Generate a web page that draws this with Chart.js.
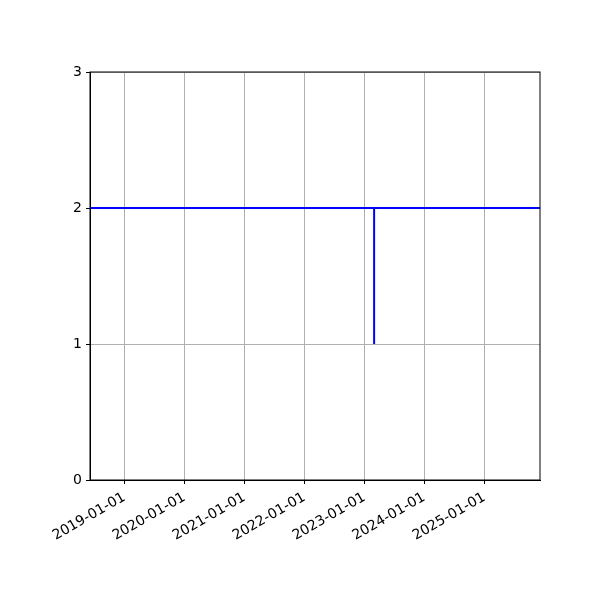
<!DOCTYPE html>
<html lang="en">

<head>
    <meta charset="UTF-8">
    <title>Step line</title>
    <script src="https://cdn.jsdelivr.net/npm/chart.js"></script>
    <style>
        body { margin: 0; background: white; }
        canvas { display: block; }
    </style>
</head>

<body>
    <canvas id="grafico" width="600" height="600"></canvas>
</body>

</html>

<script>

    // dados
    const xTickLabels = ['2019-01-01', '2020-01-01', '2021-01-01', '2022-01-01', '2023-01-01', '2024-01-01', '2025-01-01'];
    const xLimits = ['2018-06-06', '2025-12-06'];
    const lineDates = ['2018-06-06', '2023-03-02', '2023-03-02', '2023-03-02', '2025-12-06'];
    const lineValues = [2, 2, 1, 2, 2];
    const yTicks = [0, 1, 2, 3];

    const pontos = lineDates.map((d, i) => ({ x: Date.parse(d), y: lineValues[i] }));

    function formatarData(ms) {
        const d = new Date(ms);
        const mm = String(d.getUTCMonth() + 1).padStart(2, '0');
        const dd = String(d.getUTCDate()).padStart(2, '0');
        return `${d.getUTCFullYear()}-${mm}-${dd}`;
    }

    // moldura em volta da área do gráfico
    const moldura = {
        id: 'moldura',
        afterDraw(chart) {
            const a = chart.chartArea;
            const ctx = chart.ctx;
            ctx.save();
            ctx.strokeStyle = 'black';
            ctx.lineWidth = 1;
            ctx.strokeRect(a.left, a.top, a.right - a.left, a.bottom - a.top);
            ctx.restore();
        }
    };

    Chart.defaults.font.family = 'DejaVu Sans';
    Chart.defaults.font.size = 14;
    Chart.defaults.color = 'black';

    new Chart(document.getElementById('grafico').getContext('2d'), {
        type: 'line',
        data: {
            datasets: [{
                data: pontos,
                borderColor: 'blue',
                borderWidth: 2,
                pointRadius: 0,
                tension: 0,
                fill: false
            }]
        },
        plugins: [moldura],
        options: {
            responsive: false,
            animation: false,
            devicePixelRatio: 1,
            layout: { padding: { top: 72, right: 60, left: 0, bottom: 0 } },
            plugins: {
                legend: { display: false },
                tooltip: { enabled: false }
            },
            scales: {
                x: {
                    type: 'linear',
                    min: Date.parse(xLimits[0]),
                    max: Date.parse(xLimits[1]),
                    afterBuildTicks: (scale) => {
                        scale.ticks = xTickLabels.map(t => ({ value: Date.parse(t) }));
                    },
                    afterFit: (scale) => { scale.height = 120; },
                    ticks: {
                        autoSkip: false,
                        maxRotation: 30,
                        minRotation: 30,
                        padding: 5,
                        callback: (v) => formatarData(v)
                    },
                    grid: {
                        color: '#b0b0b0',
                        lineWidth: 1,
                        tickColor: 'black',
                        tickLength: 4
                    },
                    border: { color: 'black' }
                },
                y: {
                    min: 0,
                    max: 3,
                    afterBuildTicks: (scale) => {
                        scale.ticks = yTicks.map(v => ({ value: v }));
                    },
                    afterFit: (scale) => { scale.width = 90; },
                    ticks: {
                        padding: 4,
                        callback: (v) => String(v)
                    },
                    grid: {
                        color: '#b0b0b0',
                        lineWidth: 1,
                        tickColor: 'black',
                        tickLength: 4
                    },
                    border: { color: 'black' }
                }
            }
        }
    });

</script>
